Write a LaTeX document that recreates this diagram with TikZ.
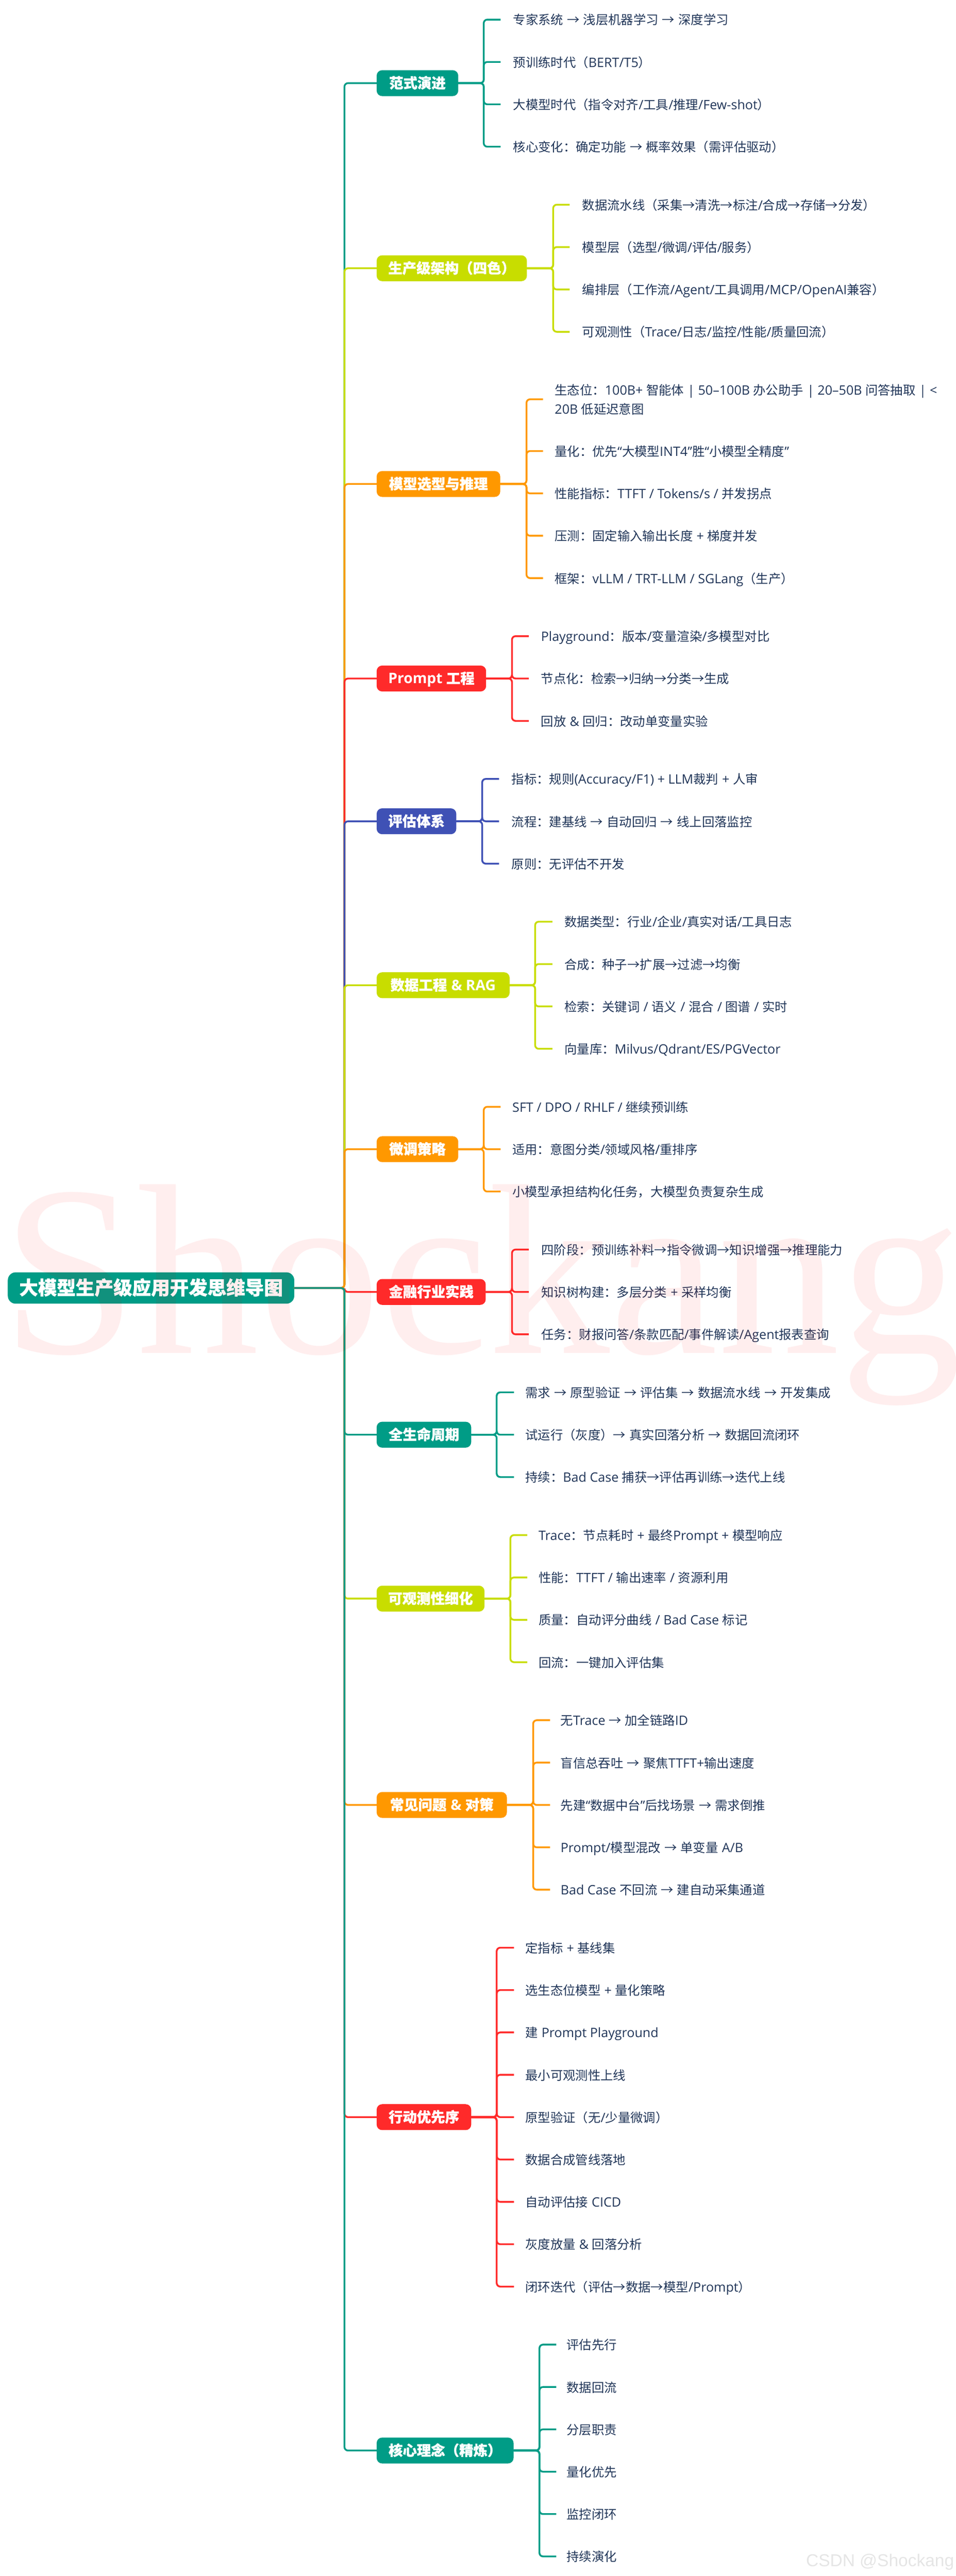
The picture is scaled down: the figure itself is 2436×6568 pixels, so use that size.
\documentclass[tikz,border=0pt]{standalone}
\usepackage{fontspec}
\setmainfont{Open Sans}
\newfontfamily\cjkfam[WordSpace=1.3,BoldFeatures={FakeBold=1}]{Noto Sans CJK SC}
\newfontfamily\latfam[Scale=1.03]{Open Sans}
\newfontfamily\wmfam{Liberation Serif}
\newfontfamily\csdnfam{Liberation Sans}
\XeTeXinterchartokenstate=1
\newXeTeXintercharclass\mycjkclass
\makeatletter
\def\setcjkrange#1#2{\count@=#1\relax\loop\XeTeXcharclass\count@=\mycjkclass\ifnum\count@<#2\relax\advance\count@ by 1\repeat}
\setcjkrange{"2190}{"2193}
\setcjkrange{"3000}{"303F}
\setcjkrange{"3400}{"9FFF}
\setcjkrange{"FF00}{"FFEF}
\makeatother
\XeTeXinterchartoks 0 \mycjkclass={\cjkfam}
\XeTeXinterchartoks \mycjkclass 0={\latfam}
\XeTeXinterchartoks 4095 \mycjkclass={\cjkfam}
\XeTeXinterchartoks 4095 0={\latfam}
\def\nomix{\XeTeXinterchartokenstate=0\relax}
\definecolor{tealc}{HTML}{009C86}
\definecolor{limec}{HTML}{C8DD00}
\definecolor{orangec}{HTML}{FF9800}
\definecolor{redc}{HTML}{FF2A2A}
\definecolor{bluec}{HTML}{3F51B5}
\definecolor{leaftext}{HTML}{203558}
\tikzset{
  rootbox/.style={draw=none,fill=tealc,text=white,rounded corners=20pt,minimum width=730pt,minimum height=80pt,inner sep=0pt,outer sep=0pt,anchor=west,font=\fontsize{48}{48}\selectfont\bfseries,text height=41pt,text depth=7pt},
  mainbox/.style={draw=none,text=white,rounded corners=14pt,minimum height=66pt,inner sep=0pt,outer sep=0pt,anchor=west,font=\fontsize{36}{36}\selectfont\bfseries,text height=31pt,text depth=5pt},
  leafbox/.style={inner ysep=0pt,outer sep=0pt,anchor=west,text=leaftext,font=\fontsize{32}{48}\selectfont,text height=30pt,text depth=4pt},
  link/.style={line width=4.5pt,rounded corners=9pt},
}
\newcommand\brn[7]{% id, width, cy, colour, label, vertical x, stub end x
  \node[mainbox,fill=#4,minimum width=#2pt] (#1) at (960,#3) {#5};
  \draw[link,#4] (root.east) -- (trunk) |- (#1.west);
  \coordinate (#1v) at (#6,#3);
  \def\curn{#1}\def\curc{#4}\def\stubx{#7}}
\newcommand\leafn[3]{%
  \node[leafbox,inner xsep=\gapx pt] (#1) at (\stubx,#2) {#3};
  \draw[link,\curc] (\curn.east) -- (\curn v) |- (#1.west);}
\begin{document}
\begin{tikzpicture}[x=1pt,y=-1pt]
\useasboundingbox (0,0) rectangle (2436,6568);
\fill[white] (0,0) rectangle (2436,6568);
\node[rootbox] (root) at (20,3284) {大模型生产级应用开发思维导图};
\coordinate (trunk) at (878,3284);

\def\gapx{32}
\brn{a}{208}{212}{tealc}{范式演进}{1233}{1276}
\leafn{a1}{50}{专家系统 → 浅层机器学习 → 深度学习}
\leafn{a2}{158}{预训练时代（BERT/T5）}
\leafn{a3}{266}{大模型时代（指令对齐/工具/推理/Few-shot）}
\leafn{a4}{374}{核心变化：确定功能 → 概率效果（需评估驱动）}

\brn{b}{383}{684}{limec}{生产级架构（四色）}{1410}{1452}
\leafn{b1}{522}{数据流水线（采集→清洗→标注/合成→存储→分发）}
\leafn{b2}{630}{模型层（选型/微调/评估/服务）}
\leafn{b3}{738}{编排层（工作流/Agent/工具调用/MCP/OpenAI兼容）}
\leafn{b4}{846}{可观测性（Trace/日志/监控/性能/质量回流）}

\def\gapx{30}
\brn{c}{315}{1234}{orangec}{模型选型与推理}{1342}{1384}
\node[leafbox,inner xsep=\gapx pt,align=left,text height=78pt,text depth=4pt] (c1) at (\stubx,1018) {生态位：100B+ 智能体 | 50–100B 办公助手 | 20–50B 问答抽取 | <\\20B 低延迟意图};
\draw[link,\curc] (\curn.east) -- (\curn v) |- (c1.west);
\leafn{c2}{1150}{量化：优先“大模型INT4”胜“小模型全精度”}
\leafn{c3}{1258}{性能指标：TTFT / Tokens/s / 并发拐点}
\leafn{c4}{1366}{压测：固定输入输出长度 + 梯度并发}
\leafn{c5}{1474}{框架：vLLM / TRT-LLM / SGLang（生产）}

\def\gapx{31}
\brn{d}{279}{1730}{redc}{Prompt 工程}{1305}{1348}
\leafn{d1}{1622}{Playground：版本/变量渲染/多模型对比}
\leafn{d2}{1730}{节点化：检索→归纳→分类→生成}
\leafn{d3}{1838}{回放 \& 回归：改动单变量实验}

\def\gapx{32}
\brn{e}{203}{2094}{bluec}{评估体系}{1229}{1272}
\leafn{e1}{1986}{指标：规则(Accuracy/F1) + LLM裁判 + 人审}
\leafn{e2}{2094}{流程：建基线 → 自动回归 → 线上回落监控}
\leafn{e3}{2202}{原则：无评估不开发}

\def\gapx{31}
\brn{f}{339}{2512}{limec}{数据工程 \& RAG}{1364}{1408}
\leafn{f1}{2350}{数据类型：行业/企业/真实对话/工具日志}
\leafn{f2}{2458}{合成：种子→扩展→过滤→均衡}
\leafn{f3}{2566}{检索：关键词 / 语义 / 混合 / 图谱 / 实时}
\leafn{f4}{2674}{向量库：Milvus/Qdrant/ES/PGVector}

\def\gapx{30}
\brn{g}{208}{2930}{orangec}{微调策略}{1233}{1276}
\leafn{g1}{2822}{SFT / DPO / RHLF / 继续预训练}
\leafn{g2}{2930}{适用：意图分类/领域风格/重排序}
\leafn{g3}{3038}{小模型承担结构化任务，大模型负责复杂生成}

\def\gapx{32}
\brn{h}{278}{3294}{redc}{金融行业实践}{1305}{1348}
\leafn{h1}{3186}{四阶段：预训练补料→指令微调→知识增强→推理能力}
\leafn{h2}{3294}{知识树构建：多层分类 + 采样均衡}
\leafn{h3}{3402}{任务：财报问答/条款匹配/事件解读/Agent报表查询}

\def\gapx{29}
\brn{i}{241}{3658}{tealc}{全生命周期}{1266}{1310}
\leafn{i1}{3550}{需求 → 原型验证 → 评估集 → 数据流水线 → 开发集成}
\leafn{i2}{3658}{试运行（灰度）→ 真实回落分析 → 数据回流闭环}
\leafn{i3}{3766}{持续：Bad Case 捕获→评估再训练→迭代上线}

\def\gapx{29}
\brn{j}{275}{4076}{limec}{可观测性细化}{1301}{1344}
\leafn{j1}{3914}{Trace：节点耗时 + 最终Prompt + 模型响应}
\leafn{j2}{4022}{性能：TTFT / 输出速率 / 资源利用}
\leafn{j3}{4130}{质量：自动评分曲线 / Bad Case 标记}
\leafn{j4}{4238}{回流：一键加入评估集}

\def\gapx{27}
\brn{k}{332}{4602}{orangec}{常见问题 \& 对策}{1359}{1402}
\leafn{k1}{4386}{无Trace → 加全链路ID}
\leafn{k2}{4494}{盲信总吞吐 → 聚焦TTFT+输出速度}
\leafn{k3}{4602}{先建“数据中台”后找场景 → 需求倒推}
\leafn{k4}{4710}{Prompt/模型混改 → 单变量 A/B}
\leafn{k5}{4818}{Bad Case 不回流 → 建自动采集通道}

\def\gapx{29}
\brn{l}{241}{5398}{redc}{行动优先序}{1266}{1310}
\leafn{l1}{4966}{定指标 + 基线集}
\leafn{l2}{5074}{选生态位模型 + 量化策略}
\leafn{l3}{5182}{建 Prompt Playground}
\leafn{l4}{5290}{最小可观测性上线}
\leafn{l5}{5398}{原型验证（无/少量微调）}
\leafn{l6}{5506}{数据合成管线落地}
\leafn{l7}{5614}{自动评估接 CICD}
\leafn{l8}{5722}{灰度放量 \& 回落分析}
\leafn{l9}{5830}{闭环迭代（评估→数据→模型/Prompt）}

\def\gapx{26}
\brn{m}{349}{6248}{tealc}{核心理念（精炼）}{1375}{1418}
\leafn{m1}{5978}{评估先行}
\leafn{m2}{6086}{数据回流}
\leafn{m3}{6194}{分层职责}
\leafn{m4}{6302}{量化优先}
\leafn{m5}{6410}{监控闭环}
\leafn{m6}{6518}{持续演化}

\node[anchor=base east,inner sep=0pt,text=black!10,font=\csdnfam\fontsize{44}{44}\selectfont] (csdn) at (2432,6543) {\nomix CSDN @Shockang};
\node[anchor=base west,inner sep=0pt,text=red,text opacity=0.065,font=\wmfam\fontsize{620}{620}\selectfont] (wm) at (5,3450) {\nomix Shockang};
\end{tikzpicture}
\end{document}
